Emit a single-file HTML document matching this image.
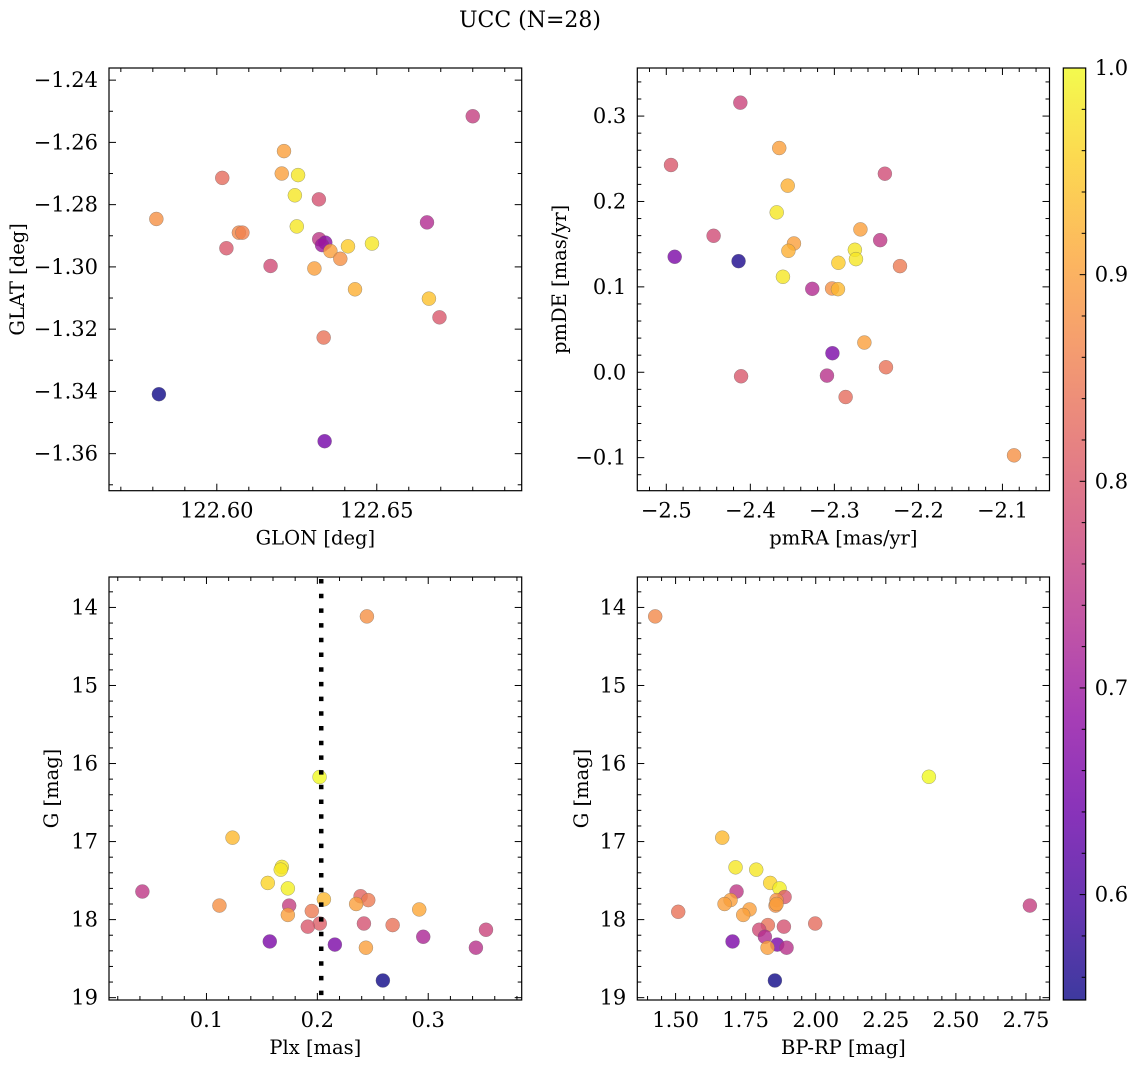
<!DOCTYPE html>
<html><head><meta charset="utf-8"><style>
html,body{margin:0;padding:0;background:#fff;}
svg{display:block;font-family:"DejaVu Serif","Liberation Serif",serif;}
</style></head><body>
<svg id="fig" width="1136" height="1067" viewBox="0 0 1136 1067" xmlns="http://www.w3.org/2000/svg">
<text x="530" y="27" font-size="22" text-anchor="middle" fill="#000">UCC (N=28)</text>
<defs><linearGradient id="cbg" x1="0" y1="1" x2="0" y2="0">
<stop offset="0" stop-color="#0d0887"/><stop offset="0.1" stop-color="#41049d"/><stop offset="0.2" stop-color="#6a00a8"/><stop offset="0.3" stop-color="#8f0da4"/><stop offset="0.4" stop-color="#b12a90"/><stop offset="0.5" stop-color="#cc4778"/><stop offset="0.6" stop-color="#e16462"/><stop offset="0.7" stop-color="#f2844b"/><stop offset="0.8" stop-color="#fca636"/><stop offset="0.9" stop-color="#fcce25"/><stop offset="1" stop-color="#f0f921"/>
</linearGradient></defs>
<g id="root"></g>
</svg>
<script>
// ---- data ----
const glon = [122.680,122.621,122.6017,122.6203,122.6254,122.6244,122.6319,122.5811,122.6657,122.625,122.6069,122.608,122.603,122.632,122.6339,122.6329,122.641,122.6485,122.6355,122.6386,122.6168,122.6305,122.6432,122.6663,122.6696,122.6334,122.5819,122.6337];
const glat = [-1.2516,-1.2628,-1.2714,-1.270,-1.2705,-1.277,-1.2783,-1.2846,-1.2857,-1.287,-1.289,-1.289,-1.294,-1.2911,-1.2922,-1.293,-1.2934,-1.2925,-1.2949,-1.2974,-1.2997,-1.3005,-1.3072,-1.3102,-1.3162,-1.3227,-1.3409,-1.356];
const c1 = [0.76,0.9,0.83,0.9,0.98,0.98,0.79,0.88,0.73,0.98,0.87,0.86,0.8,0.75,0.68,0.7,0.95,0.98,0.9,0.88,0.78,0.9,0.92,0.94,0.8,0.84,0.55,0.65];

const pmra = [-2.4119,-2.4944,-2.3656,-2.2399,-2.3555,-2.3686,-2.269,-2.4437,-2.2455,-2.3481,-2.3547,-2.2756,-2.49,-2.414,-2.2743,-2.2952,-2.2219,-2.3612,-2.3263,-2.3027,-2.2957,-2.2643,-2.3023,-2.2386,-2.411,-2.3088,-2.2866,-2.0862];
const pmde = [0.3157,0.2427,0.2626,0.2325,0.2185,0.1872,0.1673,0.1598,0.1547,0.1508,0.1422,0.1434,0.1352,0.1301,0.1325,0.1282,0.1243,0.1118,0.0977,0.0981,0.0973,0.0348,0.0223,0.0059,-0.0047,-0.0039,-0.029,-0.0973];
const c2 = [0.77,0.8,0.9,0.78,0.92,0.98,0.9,0.78,0.75,0.9,0.92,0.98,0.66,0.56,0.98,0.95,0.85,0.98,0.73,0.88,0.93,0.9,0.66,0.84,0.8,0.74,0.83,0.88];

const plx = [0.2447,0.202,0.1235,0.168,0.167,0.1553,0.1734,0.0422,0.2059,0.239,0.2459,0.235,0.1117,0.1746,0.2919,0.1734,0.195,0.2022,0.1914,0.242,0.2679,0.3521,0.2955,0.1571,0.2158,0.2438,0.343,0.2591];
const gmag3 = [14.115,16.173,16.95,17.325,17.36,17.53,17.6,17.64,17.74,17.70,17.75,17.80,17.82,17.82,17.87,17.94,17.89,18.05,18.09,18.05,18.07,18.13,18.22,18.28,18.32,18.36,18.36,18.78];
const c3 = [0.88,1.0,0.93,0.98,0.98,0.96,0.99,0.75,0.93,0.82,0.85,0.9,0.88,0.76,0.91,0.9,0.85,0.81,0.8,0.79,0.84,0.77,0.72,0.66,0.66,0.9,0.74,0.55];
const plxCut = 0.2035;

const bprp = [1.4273,2.4037,1.6664,1.7139,1.7877,1.8376,1.8709,1.7175,1.8888,1.8602,1.6961,1.6747,1.8567,1.7639,1.5094,1.7413,1.9981,1.8293,1.8864,1.7984,1.8186,1.7032,1.8626,1.8281,1.8959,1.8543,2.764,1.8602];
const gmag4 = [14.115,16.17,16.95,17.33,17.36,17.53,17.6,17.64,17.71,17.75,17.75,17.80,17.82,17.87,17.90,17.94,18.05,18.07,18.09,18.13,18.22,18.28,18.32,18.36,18.36,18.78,17.82,17.80];
const c4 = [0.87,1.0,0.93,0.98,0.98,0.96,0.99,0.75,0.8,0.88,0.9,0.9,0.88,0.9,0.84,0.9,0.83,0.84,0.79,0.78,0.73,0.66,0.66,0.9,0.74,0.55,0.76,0.9];

const p1xTicks = [122.60,122.65]; const p1xLabels = ["122.60","122.65"];
const p1yTicks = [-1.24,-1.26,-1.28,-1.30,-1.32,-1.34,-1.36]; const p1yLabels = ["−1.24","−1.26","−1.28","−1.30","−1.32","−1.34","−1.36"];
const p2xTicks = [-2.5,-2.4,-2.3,-2.2,-2.1]; const p2xLabels = ["−2.5","−2.4","−2.3","−2.2","−2.1"];
const p2yTicks = [-0.1,0,0.1,0.2,0.3]; const p2yLabels = ["−0.1","0.0","0.1","0.2","0.3"];
const p3xTicks = [0.1,0.2,0.3]; const p3xLabels = ["0.1","0.2","0.3"];
const gTicks = [14,15,16,17,18,19]; const gLabels = ["14","15","16","17","18","19"];
const p4xTicks = [1.5,1.75,2.0,2.25,2.5,2.75]; const p4xLabels = ["1.50","1.75","2.00","2.25","2.50","2.75"];
const cbTicks = [0.6,0.7,0.8,0.9,1.0]; const cbLabels = ["0.6","0.7","0.8","0.9","1.0"];
const cMin = 0.549, cMax = 1.0;

// ---- rendering ----
const NS = "http://www.w3.org/2000/svg";
const root = document.getElementById("root");
const TICK_FS = 21, LAB_FS = 19.5;
const stops = [[13,8,135],[65,4,157],[106,0,168],[143,13,164],[177,42,144],[204,71,120],[225,100,98],[242,132,75],[252,166,54],[252,206,37],[240,249,33]];
function plasma(v){
  let t = (v - cMin)/(cMax - cMin); t = Math.max(0, Math.min(1, t));
  const f = t*10, i = Math.min(9, Math.floor(f)), u = f - i;
  const a = stops[i], b = stops[i+1];
  return "rgb(" + a.map((x,k)=>Math.round(x+(b[k]-x)*u)).join(",") + ")";
}
function mk(tag, attrs, parent){
  const e = document.createElementNS(NS, tag);
  for (const k in attrs) e.setAttribute(k, attrs[k]);
  (parent||root).appendChild(e);
  return e;
}
function txt(s, attrs, parent){ const t = mk("text", attrs, parent); t.textContent = s; return t; }

function panel(name, box, xlim, ylim, xt, xl, xminor, yt, yl, yminor, xs, ys, cs, xlab, ylab, ylabX){
  const g = mk("g", {});
  
  
  const [L,T,R,B] = box;
  const X = v => L + (v - xlim[0])/(xlim[1]-xlim[0])*(R-L);
  const Y = v => T + (v - ylim[0])/(ylim[1]-ylim[0])*(B-T);
  const cp = mk("clipPath", {id: name+"-clip"}, g);
  mk("rect", {x:L, y:T, width:R-L, height:B-T}, cp);
  const pts = mk("g", {"clip-path":"url(#"+name+"-clip)"}, g);
  
  
  for (let i=0;i<xs.length;i++){
    const c = mk("circle", {cx:X(xs[i]), cy:Y(ys[i]), r:7, fill:plasma(cs[i]), "fill-opacity":0.8, stroke:"#666", "stroke-opacity":0.6, "stroke-width":0.5}, pts);
    
    
  }
  const tk = mk("g", {stroke:"#000", "stroke-width":1}, g);
  
  
  const lo = Math.min(xlim[0],xlim[1]), hi = Math.max(xlim[0],xlim[1]);
  for (let v = Math.ceil(lo/xminor-1e-6)*xminor; v <= hi+1e-9; v += xminor){
    const x = X(v), major = xt.some(m=>Math.abs(m-v)<xminor/10), len = major?7:4;
    mk("line",{x1:x,y1:B,x2:x,y2:B-len},tk); mk("line",{x1:x,y1:T,x2:x,y2:T+len},tk);
  }
  const ylo = Math.min(ylim[0],ylim[1]), yhi = Math.max(ylim[0],ylim[1]);
  for (let v = Math.ceil(ylo/yminor-1e-6)*yminor; v <= yhi+1e-9; v += yminor){
    const y = Y(v), major = yt.some(m=>Math.abs(m-v)<yminor/10), len = major?7:4;
    mk("line",{x1:L,y1:y,x2:L+len,y2:y},tk); mk("line",{x1:R,y1:y,x2:R-len,y2:y},tk);
  }
  const fr = mk("rect",{x:L,y:T,width:R-L,height:B-T,fill:"none",stroke:"#000","stroke-width":1.2},g);
  
  
  xt.forEach((v,i)=>{
    const t = txt(xl[i], {x:X(v), y:B+27, "font-size":TICK_FS, "text-anchor":"middle"}, g);
    
    
  });
  yt.forEach((v,i)=>{
    const t = txt(yl[i], {x:L-11, y:Y(v)+7, "font-size":TICK_FS, "text-anchor":"end"}, g);
    
    
  });
  const xa = txt(xlab, {x:(L+R)/2, y:B+54, "font-size":LAB_FS, "text-anchor":"middle"}, g);
  
  
  const ya = txt(ylab, {x:ylabX, y:(T+B)/2, "font-size":LAB_FS, "text-anchor":"middle", transform:"rotate(-90 "+ylabX+" "+((T+B)/2)+")"}, g);
  
  
  return {X, Y, g};
}

panel("glon-glat-panel",[109,68,521.7,490.7],[122.5663,122.6953],[-1.2361,-1.3719],p1xTicks,p1xLabels,0.01,p1yTicks,p1yLabels,0.01,glon,glat,c1,"GLON [deg]","GLAT [deg]",24);
panel("pm-panel",[637.3,68,1049.5,490.7],[-2.5345,-2.044],[0.3563,-0.1387],p2xTicks,p2xLabels,0.02,p2yTicks,p2yLabels,0.02,pmra,pmde,c2,"pmRA [mas/yr]","pmDE [mas/yr]",566);
const p3 = panel("plx-g-panel",[109,577,521.7,1000],[0.0121,0.3843],[13.61,19.03],p3xTicks,p3xLabels,0.02,gTicks,gLabels,0.2,plx,gmag3,c3,"Plx [mas]","G [mag]",58);
panel("cmd-panel",[637.3,577,1049.5,1000],[1.3634,2.834],[13.61,19.03],p4xTicks,p4xLabels,0.05,gTicks,gLabels,0.2,bprp,gmag4,c4,"BP-RP [mag]","G [mag]",588);

const cut = mk("line",{x1:p3.X(plxCut),y1:579,x2:p3.X(plxCut),y2:1000,stroke:"#000","stroke-width":4.5,"stroke-dasharray":"4.5 10.2"});



// colorbar
const cb = mk("g", {});


const cbL=1063.3, cbR=1085.7, cbT=68, cbB=1000;
const CY = v => cbB - (v - cMin)/(cMax-cMin)*(cbB-cbT);
mk("rect",{x:cbL,y:cbT,width:cbR-cbL,height:cbB-cbT,fill:"url(#cbg)","fill-opacity":0.8},cb);
for (let v=0.56; v<=1.0001; v+=0.02){
  const major = cbTicks.some(m=>Math.abs(m-v)<0.002), y=CY(v);
  mk("line",{x1:cbR,y1:y,x2:cbR-(major?6:4),y2:y,stroke:"#000","stroke-width":1},cb);
}
mk("rect",{x:cbL,y:cbT,width:cbR-cbL,height:cbB-cbT,fill:"none",stroke:"#000","stroke-width":1.2},cb);
cbTicks.forEach((v,i)=>{
  const t = txt(cbLabels[i], {x:cbR+9, y:CY(v)+7, "font-size":TICK_FS}, cb);
  
  
});
</script>
</body></html>
